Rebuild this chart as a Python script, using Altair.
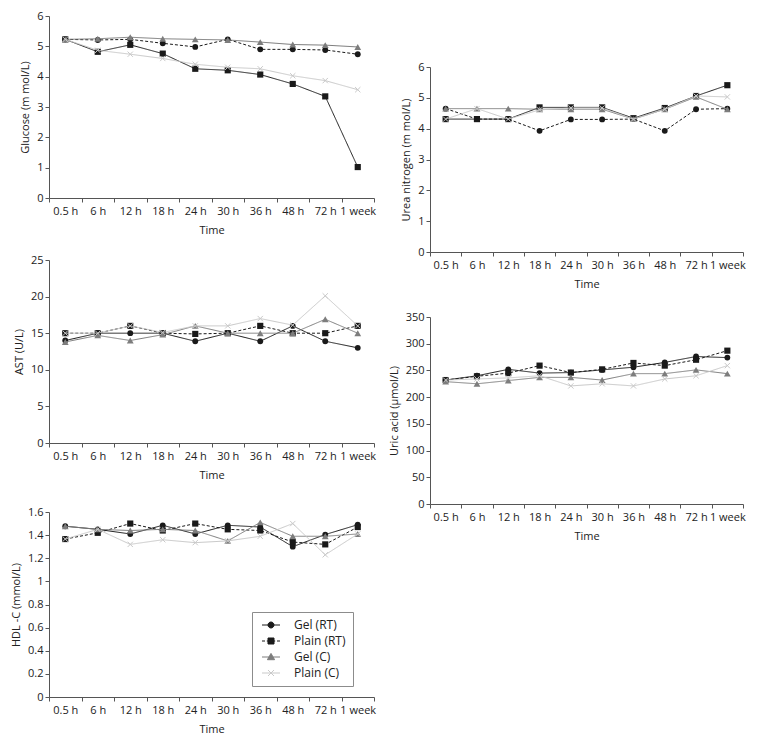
import altair as alt
import pandas as pd

TIMES = ["0.5 h", "6 h", "12 h", "18 h", "24 h", "30 h", "36 h", "48 h", "72 h", "1 week"]
SERIES = ["Gel (RT)", "Plain (RT)", "Gel (C)", "Plain (C)"]

# Glucose (m mol/L)
glu_gel_rt = [5.23, 5.21, 5.23, 5.10, 4.98, 5.23, 4.90, 4.90, 4.88, 4.74]
glu_plain_rt = [5.23, 4.82, 5.05, 4.76, 4.26, 4.21, 4.07, 3.76, 3.35, 1.02]
glu_gel_c = [5.23, 5.25, 5.30, 5.25, 5.23, 5.21, 5.14, 5.06, 5.04, 4.98]
glu_plain_c = [5.23, 4.87, 4.74, 4.60, 4.41, 4.31, 4.26, 4.03, 3.87, 3.57]

# Urea nitrogen (m mol/L)
urea_gel_rt = [4.65, 4.31, 4.31, 3.93, 4.30, 4.30, 4.31, 3.93, 4.63, 4.65]
urea_plain_rt = [4.31, 4.31, 4.31, 4.69, 4.69, 4.69, 4.34, 4.67, 5.06, 5.41]
urea_gel_c = [4.65, 4.65, 4.65, 4.63, 4.63, 4.63, 4.31, 4.63, 5.03, 4.63]
urea_plain_c = [4.31, 4.65, 4.31, 4.61, 4.67, 4.67, 4.31, 4.63, 5.06, 5.03]

# AST (U/L)
ast_gel_rt = [14.0, 15.0, 15.0, 15.0, 13.9, 15.0, 13.9, 16.0, 13.9, 13.0]
ast_plain_rt = [15.0, 15.0, 16.0, 15.0, 14.9, 15.0, 16.0, 15.0, 15.0, 16.0]
ast_gel_c = [13.8, 14.7, 14.0, 14.8, 16.0, 15.0, 15.0, 15.0, 16.9, 15.0]
ast_plain_c = [15.0, 15.0, 16.0, 15.1, 16.0, 16.0, 17.0, 16.1, 20.1, 16.0]

# Uric acid (umol/L)
uric_gel_rt = [232, 240, 252, 245, 246, 251, 256, 265, 276, 274]
uric_plain_rt = [232, 239, 245, 259, 246, 252, 264, 259, 270, 287]
uric_gel_c = [229, 225, 231, 237, 237, 232, 244, 244, 251, 244]
uric_plain_c = [232, 234, 236, 240, 221, 225, 221, 234, 240, 259]

# HDL-C (mmol/L)
hdl_gel_rt = [1.477, 1.45, 1.41, 1.485, 1.41, 1.485, 1.47, 1.30, 1.405, 1.49]
hdl_plain_rt = [1.366, 1.42, 1.50, 1.44, 1.50, 1.45, 1.44, 1.34, 1.32, 1.47]
hdl_gel_c = [1.477, 1.45, 1.44, 1.45, 1.44, 1.35, 1.51, 1.39, 1.39, 1.41]
hdl_plain_c = [1.366, 1.45, 1.32, 1.36, 1.335, 1.35, 1.39, 1.50, 1.23, 1.41]

COLOR = {"Gel (RT)": "#1a1a1a", "Plain (RT)": "#1a1a1a", "Gel (C)": "#7d7d7d", "Plain (C)": "#c9c9c9"}
XPATH = "M-1,-1L1,1M-1,1L1,-1"
POINT = {
    "Gel (RT)": dict(shape="circle", filled=True, size=34, opacity=1),
    "Plain (RT)": dict(shape="square", filled=True, size=38, opacity=1),
    "Gel (C)": dict(shape="triangle-up", filled=True, size=46, opacity=1),
    "Plain (C)": dict(shape=XPATH, filled=False, size=28, strokeWidth=1, opacity=1),
}
SOLID = [1, 0]
DASH = [3, 2]
DASH_A = {"Gel (RT)": DASH, "Plain (RT)": SOLID, "Gel (C)": SOLID, "Plain (C)": SOLID}
DASH_B = {"Gel (RT)": SOLID, "Plain (RT)": DASH, "Gel (C)": SOLID, "Plain (C)": SOLID}

# legend keys: marker plus a short line (dashed for Plain (RT)), drawn right of the key origin
LEGEND_PATHS = [
    "M-1,0H5M3,0A1,1,0,1,1,1,0A1,1,0,1,1,3,0Z",
    "M-1,0H0M0.6,0H1.6M2.4,0H3.4M4,0H5M1,-1H3V1H1Z",
    "M-1,0H5M2,-1.2L3.2,0.9H0.8Z",
    "M-1,0H5M1,-1L3,1M1,1L3,-1",
]

FONT = "Open Sans"


def legend_layer(lx, ly):
    leg = alt.Legend(
        title=None, orient="none", legendX=lx, legendY=ly,
        strokeColor="#8c8c8c", fillColor="white", padding=7,
        symbolSize=36, labelOffset=23, rowPadding=4,
        labelFontSize=12, labelFont=FONT, labelColor="#222222", labelAlign="left",
        symbolStrokeWidth=1,
    )
    ldf = pd.DataFrame({"series": SERIES})
    return (
        alt.Chart(ldf)
        .transform_filter("false")
        .mark_point(filled=True, size=36, strokeWidth=1, opacity=1)
        .encode(
            fill=alt.Fill("series:N", scale=alt.Scale(domain=SERIES, range=[COLOR[s] for s in SERIES]), legend=leg),
            stroke=alt.Stroke("series:N", scale=alt.Scale(domain=SERIES, range=[COLOR[s] for s in SERIES]), legend=leg),
            shape=alt.Shape("series:N", scale=alt.Scale(domain=SERIES, range=LEGEND_PATHS), legend=leg),
        )
    )


def panel(ytitle, vals, ymax, yticks, dashes, w, h, legend=None):
    xenc = alt.X(
        "time:N", sort=TIMES, bandPosition=0.5,
        scale=alt.Scale(type="band", domain=TIMES, paddingInner=0, paddingOuter=0),
        axis=alt.Axis(title="Time", tickBand="extent", labelAngle=0, labelPadding=3, titlePadding=8),
    )
    yenc = alt.Y(
        "value:Q",
        scale=alt.Scale(domain=[0, ymax], nice=False, zero=True),
        axis=alt.Axis(title=ytitle, values=yticks, format="~r", titlePadding=6),
    )
    layers = []
    for s, v in zip(SERIES, vals):
        df = pd.DataFrame({"time": TIMES, "value": v})
        base = alt.Chart(df).encode(x=xenc, y=yenc)
        layers.append(base.mark_line(color=COLOR[s], strokeWidth=1, strokeDash=dashes[s]))
        layers.append(base.mark_point(color=COLOR[s], **POINT[s]))
    if legend is not None:
        layers.append(legend)
    return alt.layer(*layers).properties(width=w, height=h)


LW, RW = 325, 313

glucose = panel("Glucose (m mol/L)", [glu_gel_rt, glu_plain_rt, glu_gel_c, glu_plain_c],
                6, [0, 1, 2, 3, 4, 5, 6], DASH_A, LW, 182)
ast = panel("AST (U/L)", [ast_gel_rt, ast_plain_rt, ast_gel_c, ast_plain_c],
            25, [0, 5, 10, 15, 20, 25], DASH_B, LW, 183)
hdl = panel("HDL -C (mmol/L)", [hdl_gel_rt, hdl_plain_rt, hdl_gel_c, hdl_plain_c],
            1.6, [0, 0.2, 0.4, 0.6, 0.8, 1, 1.2, 1.4, 1.6], DASH_B, LW, 185,
            legend=legend_layer(203, 100))
urea = panel("Urea nitrogen (m mol/L)", [urea_gel_rt, urea_plain_rt, urea_gel_c, urea_plain_c],
             6, [0, 1, 2, 3, 4, 5, 6], DASH_A, RW, 185)
uric = panel("Uric acid (µmol/L)", [uric_gel_rt, uric_plain_rt, uric_gel_c, uric_plain_c],
             350, [0, 50, 100, 150, 200, 250, 300, 350], DASH_B, RW, 187)

spacer = (
    alt.Chart(pd.DataFrame({"v": [0]}))
    .mark_text(text=" ")
    .encode(x=alt.value(0), y=alt.value(0))
    .properties(width=RW, height=35)
)

IND = dict(fill="independent", stroke="independent", shape="independent")

left = alt.vconcat(
    alt.vconcat(glucose, ast, spacing=19).resolve_scale(**IND),
    hdl, spacing=26,
).resolve_scale(**IND)
right = alt.vconcat(
    spacer,
    alt.vconcat(urea, uric, spacing=22).resolve_scale(**IND),
    spacing=10,
).resolve_scale(**IND)

chart = (
    alt.hconcat(left, right, spacing=12)
    .resolve_scale(**IND)
    .properties(padding={"left": 2, "top": 2, "right": 2, "bottom": 2}, background="white")
    .configure_view(stroke=None)
    .configure_axis(
        grid=False, domainColor="#555555", tickColor="#555555", tickSize=4,
        labelColor="#222222", titleColor="#222222", labelFont=FONT, titleFont=FONT,
        labelFontSize=11, titleFontSize=11, titleFontWeight="normal",
    )
)

chart.save("out.html", embed_options={"renderer": "svg", "actions": False})
